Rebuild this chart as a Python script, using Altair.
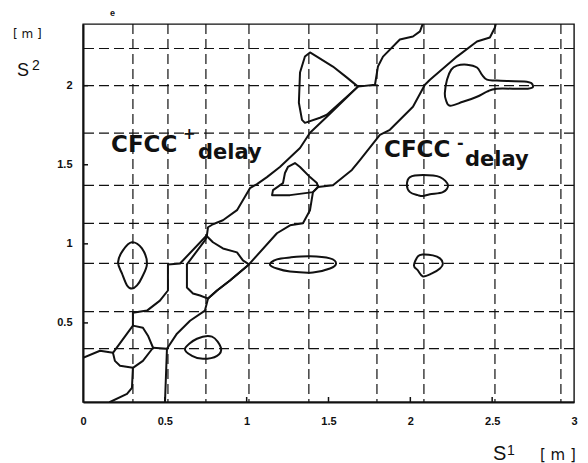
import altair as alt
import pandas as pd

# ---------------- data (data units: metres) ----------------
grid_s1 = [0.305, 0.519, 0.751, 1.014, 1.38, 1.796, 2.083, 2.517, 2.92]
grid_s2 = [0.337, 0.571, 0.876, 1.13, 1.37, 1.70, 2.0, 2.235]
ticks_s1 = [0, 0.5, 1, 1.5, 2, 2.5, 3]
ticks_s2 = [0.5, 1, 1.5, 2]

# open contour branches and sharp-cornered cells (drawn with straight segments)
upper_curve = [(0.757, 1.054), (0.764, 1.105), (0.794, 1.124), (0.855, 1.149), (0.941, 1.213),
               (1.020, 1.352), (1.063, 1.378), (1.124, 1.422), (1.203, 1.486), (1.326, 1.606),
               (1.387, 1.702), (1.490, 1.803), (1.680, 1.994), (1.784, 2.006), (1.802, 2.121),
               (1.833, 2.184), (1.936, 2.292), (2.016, 2.311), (2.059, 2.343), (2.077, 2.394)]
upper_curve_low = [(0.757, 1.054), (0.593, 0.876), (0.519, 0.870), (0.519, 0.705), (0.470, 0.641),
                   (0.391, 0.578), (0.305, 0.565), (0.305, 0.483)]
lower_curve = [(0.501, 0.0), (0.513, 0.337), (0.574, 0.432), (0.654, 0.514), (0.745, 0.578),
               (0.764, 0.654), (0.819, 0.705), (0.898, 0.768), (1.014, 0.870), (1.185, 1.067),
               (1.265, 1.117), (1.344, 1.130), (1.387, 1.213), (1.405, 1.327), (1.436, 1.359),
               (1.527, 1.371), (1.643, 1.467), (1.692, 1.530), (1.814, 1.689), (1.875, 1.721),
               (2.016, 1.867), (2.089, 2.006), (2.120, 2.038), (2.285, 2.184), (2.407, 2.279),
               (2.486, 2.305), (2.517, 2.368), (2.523, 2.394)]
left_link = [(0.0, 0.279), (0.104, 0.324), (0.183, 0.311)]
diamond = [(0.183, 0.311), (0.269, 0.432), (0.305, 0.483), (0.366, 0.470), (0.397, 0.419),
           (0.428, 0.343), (0.366, 0.260), (0.305, 0.216), (0.226, 0.229), (0.195, 0.260),
           (0.183, 0.311)]
diamond_tail = [(0.305, 0.216), (0.299, 0.089), (0.269, 0.051), (0.165, 0.0)]
diamond_link = [(0.428, 0.343), (0.513, 0.337)]
big_cell = [(0.635, 0.870), (0.745, 1.022), (0.757, 1.048), (0.794, 1.010), (0.855, 0.971),
            (0.941, 0.946), (0.977, 0.895), (1.014, 0.870), (0.898, 0.768), (0.819, 0.705),
            (0.764, 0.654), (0.715, 0.673), (0.672, 0.686), (0.635, 0.724), (0.635, 0.870)]
triangle_blob = [(1.387, 2.210), (1.356, 2.184), (1.326, 2.083), (1.319, 1.892), (1.338, 1.784),
                 (1.356, 1.765), (1.448, 1.797), (1.490, 1.816), (1.680, 1.994), (1.613, 2.051),
                 (1.527, 2.121), (1.429, 2.184), (1.387, 2.210)]
mid_blob = [(1.155, 1.308), (1.161, 1.340), (1.222, 1.384), (1.234, 1.448), (1.252, 1.486),
            (1.295, 1.511), (1.326, 1.486), (1.387, 1.422), (1.429, 1.384), (1.436, 1.359),
            (1.405, 1.327), (1.265, 1.308), (1.155, 1.308)]

# smooth closed islands (drawn as closed smooth curves)
small_blob = [(0.623, 0.337), (0.696, 0.400), (0.788, 0.413), (0.843, 0.343), (0.819, 0.292),
              (0.733, 0.273), (0.666, 0.292)]
left_blob = [(0.299, 1.010), (0.360, 0.971), (0.391, 0.876), (0.360, 0.787), (0.330, 0.737),
             (0.299, 0.717), (0.269, 0.737), (0.238, 0.813), (0.214, 0.883), (0.244, 0.959)]
elong_blob = [(1.142, 0.870), (1.185, 0.902), (1.265, 0.914), (1.387, 0.921), (1.509, 0.908),
              (1.546, 0.876), (1.509, 0.844), (1.405, 0.819), (1.265, 0.825), (1.185, 0.844)]
tail_blob = [(2.224, 2.038), (2.250, 2.102), (2.285, 2.127), (2.346, 2.133), (2.407, 2.115),
             (2.437, 2.070), (2.468, 2.038), (2.529, 2.032), (2.712, 2.025), (2.749, 2.0),
             (2.718, 1.981), (2.529, 1.981), (2.468, 1.962), (2.407, 1.930), (2.321, 1.898),
             (2.242, 1.873), (2.217, 1.911), (2.211, 1.956)]
ring_blob = [(1.979, 1.371), (1.998, 1.422), (2.077, 1.435), (2.181, 1.422), (2.230, 1.371),
             (2.199, 1.327), (2.120, 1.314), (2.077, 1.302), (2.046, 1.308), (1.998, 1.327)]
circle_blob = [(2.022, 0.863), (2.046, 0.921), (2.077, 0.933), (2.138, 0.927), (2.181, 0.908),
               (2.199, 0.876), (2.181, 0.844), (2.132, 0.813), (2.077, 0.794), (2.046, 0.832)]

sharp_lines = {
    "upper_curve": upper_curve, "upper_curve_low": upper_curve_low, "lower_curve": lower_curve,
    "left_link": left_link, "diamond": diamond, "diamond_tail": diamond_tail,
    "diamond_link": diamond_link, "big_cell": big_cell, "triangle_blob": triangle_blob,
    "mid_blob": mid_blob,
}
smooth_islands = {
    "small_blob": small_blob, "left_blob": left_blob, "elong_blob": elong_blob,
    "tail_blob": tail_blob, "ring_blob": ring_blob, "circle_blob": circle_blob,
}


def to_frame(groups):
    rows = []
    for name, pts in groups.items():
        for i, (a, b) in enumerate(pts):
            rows.append({"id": name, "i": i, "s1": a, "s2": b})
    return pd.DataFrame(rows)


df_sharp = to_frame(sharp_lines)
df_smooth = to_frame(smooth_islands)
df_gx = pd.DataFrame({"s1": grid_s1})
df_gy = pd.DataFrame({"s2": grid_s2})
df_tx = pd.DataFrame({"s1": ticks_s1[1:-1]})
df_ty = pd.DataFrame({"s2": ticks_s2})

INK = "#111111"
xscale = alt.Scale(domain=[0, 3], nice=False, zero=False)
yscale = alt.Scale(domain=[0, 2.39], nice=False, zero=False)
xaxis = alt.Axis(values=ticks_s1, format="~g", title=None, grid=False, ticks=False,
                 labelFlush=False, domainColor=INK, domainWidth=2,
                 labelFont="Liberation Sans", labelFontWeight="bold", labelFontSize=11,
                 labelColor=INK, labelPadding=13)
yaxis = alt.Axis(values=ticks_s2, format="~g", title=None, grid=False, ticks=False,
                 labelFlush=False, domainColor=INK, domainWidth=2,
                 labelFont="Liberation Sans", labelFontWeight="bold", labelFontSize=11,
                 labelColor=INK, labelPadding=11)
X = alt.X("s1:Q", scale=xscale, axis=xaxis)
Y = alt.Y("s2:Q", scale=yscale, axis=yaxis)

grid_v = alt.Chart(df_gx).mark_rule(color=INK, strokeWidth=1.2, strokeDash=[10, 5]).encode(x=X)
grid_h = alt.Chart(df_gy).mark_rule(color=INK, strokeWidth=1.2, strokeDash=[10, 5]).encode(y=Y)
tick_x = alt.Chart(df_tx).mark_rule(color=INK, strokeWidth=1.5).encode(
    x=X, y=alt.value(378), y2=alt.value(373))
tick_y = alt.Chart(df_ty).mark_rule(color=INK, strokeWidth=1.5).encode(
    y=Y, x=alt.value(0), x2=alt.value(5))
lines_sharp = alt.Chart(df_sharp).mark_line(color=INK, strokeWidth=2.0, clip=True,
                                            strokeJoin="round", strokeCap="round").encode(
    x=X, y=Y, detail="id:N", order="i:Q")
lines_smooth = alt.Chart(df_smooth).mark_line(color=INK, strokeWidth=2.0, clip=True,
                                              interpolate="cardinal-closed").encode(
    x=X, y=Y, detail="id:N", order="i:Q")


def label(txt, x, y, size, weight="normal", font="Liberation Sans", align="left"):
    return alt.Chart(alt.Data(values=[{}])).mark_text(
        text=txt, fontSize=size, fontWeight=weight, font=font, align=align,
        baseline="alphabetic", color=INK).encode(x=alt.value(x), y=alt.value(y))


texts = [
    label("[ m ]", -70, 14, 12, font="DejaVu Sans"),
    label("S", -66, 52, 18),
    label("2", -51, 46, 14),
    label("S", 410, 436, 20),
    label("1", 424, 431, 14),
    label("[ m ]", 457, 436, 15, font="DejaVu Sans"),
    label("e", 27, -8, 9, weight="bold"),
    label("CFCC", 28, 128, 23, weight="bold", font="DejaVu Sans"),
    label("+", 100, 115, 15, weight="bold", font="DejaVu Sans"),
    label("delay", 115, 135, 21, weight="bold", font="DejaVu Sans"),
    label("CFCC", 301, 133, 23, weight="bold", font="DejaVu Sans"),
    label("-", 374, 124, 16, weight="bold", font="DejaVu Sans"),
    label("delay", 382, 142, 21, weight="bold", font="DejaVu Sans"),
]

chart = alt.layer(grid_v, grid_h, tick_x, tick_y, lines_sharp, lines_smooth, *texts).properties(
    width=491, height=378,
    padding={"left": 83, "top": 24, "right": 14, "bottom": 61},
    autosize="none",
    background="white",
).configure_view(stroke=INK, strokeWidth=1.4)

chart.save("out.html", embed_options={"renderer": "svg", "actions": False})
